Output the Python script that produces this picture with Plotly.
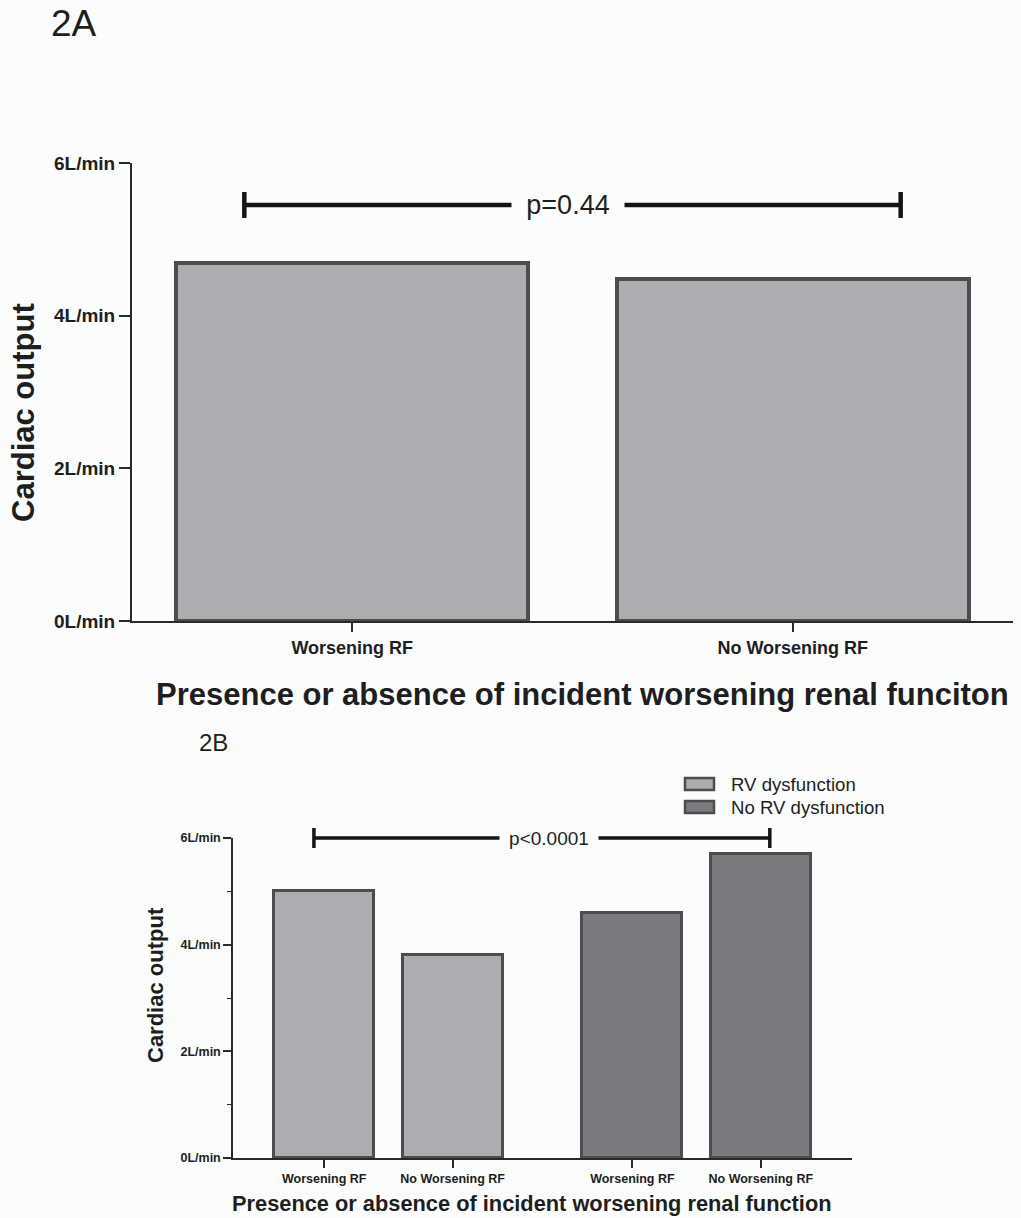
import plotly.graph_objects as go

# ---------------- data ----------------
# Panel 2A
a_categories = ["Worsening RF", "No Worsening RF"]
a_values = [4.69, 4.48]
a_pvalue = "p=0.44"

# Panel 2B
b_groups = ["RV dysfunction", "No RV dysfunction"]
b_categories = ["Worsening RF", "No Worsening RF"]
b_rv_values = [5.0, 3.8]
b_norv_values = [4.6, 5.7]
b_pvalue = "p<0.0001"

y_tickvals = [0, 2, 4, 6]
y_ticktext = ["0L/min", "2L/min", "4L/min", "6L/min"]

# ---------------- styling ----------------
W, H = 1021, 1218
BG = "#fbfcfc"
LIGHT = "#acadb1"
DARK = "#7a7b7f"
EDGE = "#4d4d4f"
AXC = "#2a2a2a"
TXT = "#1e1e1e"
FONT = "Liberation Sans, Arial, Helvetica, sans-serif"


def px(x):
    return x / W


def py(y):
    return 1 - y / H


# positions of bars in panel 2B (two groups separated by a gap)
GROUP_STEP = 2.4
b_positions = [[g * GROUP_STEP + i for i in range(len(b_categories))] for g in range(len(b_groups))]

fig = go.Figure()

# Panel 2A bars
fig.add_trace(go.Bar(
    x=list(range(len(a_categories))), y=a_values, width=0.80,
    marker=dict(color=LIGHT, line=dict(color=EDGE, width=4)),
    xaxis="x", yaxis="y", showlegend=False, hoverinfo="skip",
))

# Panel 2B bars
for g, (name, vals, col) in enumerate(zip(b_groups, [b_rv_values, b_norv_values], [LIGHT, DARK])):
    fig.add_trace(go.Bar(
        x=b_positions[g], y=vals, width=0.78, name=name,
        marker=dict(color=col, line=dict(color=EDGE, width=3)),
        xaxis="x2", yaxis="y2", showlegend=False, hoverinfo="skip",
    ))

common_axis = dict(showgrid=False, zeroline=False, showline=True, linecolor=AXC,
                   ticks="outside", tickcolor=AXC, fixedrange=True, automargin=False)

b_all_pos = b_positions[0] + b_positions[1]

fig.update_layout(
    width=W, height=H,
    margin=dict(l=0, r=0, t=0, b=0, pad=0, autoexpand=False),
    paper_bgcolor=BG, plot_bgcolor=BG,
    showlegend=False,
    font=dict(family=FONT, color=TXT),
    xaxis=dict(common_axis, domain=[px(132), px(1013)], range=[-0.5, 1.5],
               tickvals=list(range(len(a_categories))), ticktext=a_categories,
               linewidth=2, tickwidth=2, ticklen=9,
               tickfont=dict(size=18, weight="bold", family=FONT, color=TXT), anchor="y"),
    yaxis=dict(common_axis, domain=[py(621), py(163)], range=[0, 6],
               tickvals=y_tickvals, ticktext=y_ticktext,
               linewidth=2, tickwidth=2, ticklen=11,
               tickfont=dict(size=19, weight="bold", family=FONT, color=TXT), anchor="x"),
    xaxis2=dict(common_axis, domain=[px(233), px(852)], range=[-0.71, 4.11],
                tickvals=b_all_pos, ticktext=b_categories * 2,
                linewidth=1.5, tickwidth=1.5, ticklen=8,
                tickfont=dict(size=12.5, weight="bold", family=FONT, color=TXT), anchor="y2"),
    yaxis2=dict(common_axis, domain=[py(1158), py(838)], range=[0, 6],
                tickvals=y_tickvals, ticktext=y_ticktext,
                linewidth=1.5, tickwidth=1.5, ticklen=8,
                minor=dict(ticks="outside", dtick=1, tick0=0, ticklen=4, tickcolor=AXC, tickwidth=1.2),
                tickfont=dict(size=12.5, weight="bold", family=FONT, color=TXT), anchor="x2"),
    bargap=0,
)

shapes = []
annotations = []

# significance bracket 2A
a_y = 5.45
a_l, a_r = -0.245, 1.245
shapes.append(dict(type="line", xref="x", yref="y", x0=a_l, x1=a_r, y0=a_y, y1=a_y,
                   line=dict(color="#151515", width=4.5)))
for xx in (a_l, a_r):
    shapes.append(dict(type="line", xref="x", yref="y", x0=xx, x1=xx, y0=a_y - 0.17, y1=a_y + 0.17,
                       line=dict(color="#151515", width=4.5)))
annotations.append(dict(xref="x", yref="y", x=0.49, y=a_y, text=a_pvalue, showarrow=False,
                        font=dict(size=27, family=FONT, color=TXT), bgcolor=BG, width=110,
                        xanchor="center", yanchor="middle"))

# significance bracket 2B (drawn at the top edge of the panel; y in paper units to avoid clipping)
b_yp = py(838)
b_cap = 10 / H
b_l, b_r = -0.08, 3.47
shapes.append(dict(type="line", xref="x2", yref="paper", x0=b_l, x1=b_r, y0=b_yp, y1=b_yp,
                   line=dict(color="#151515", width=3.5)))
for xx in (b_l, b_r):
    shapes.append(dict(type="line", xref="x2", yref="paper", x0=xx, x1=xx, y0=b_yp - b_cap, y1=b_yp + b_cap,
                       line=dict(color="#151515", width=3.5)))
annotations.append(dict(xref="x2", yref="paper", x=1.75, y=b_yp, text=b_pvalue, showarrow=False,
                        font=dict(size=19, family=FONT, color=TXT), bgcolor=BG, width=96,
                        xanchor="center", yanchor="middle"))

# manual legend for 2B
for i, (name, col) in enumerate(zip(b_groups, [LIGHT, DARK])):
    yc = 784 + i * 23
    shapes.append(dict(type="rect", xref="paper", yref="paper",
                       x0=px(685), x1=px(714), y0=py(yc + 6), y1=py(yc - 6),
                       fillcolor=col, line=dict(color=EDGE, width=2.5)))
    annotations.append(dict(xref="paper", yref="paper", x=px(729), y=py(yc), text=name,
                            showarrow=False, xanchor="left", yanchor="middle",
                            font=dict(size=18.6, family=FONT, color=TXT)))

# panel labels and axis titles
annotations += [
    dict(xref="paper", yref="paper", x=px(74), y=py(24), text="2A", showarrow=False,
         xanchor="center", yanchor="middle", font=dict(size=37, family=FONT, color=TXT)),
    dict(xref="paper", yref="paper", x=px(213), y=py(742), text="2B", showarrow=False,
         xanchor="center", yanchor="middle", font=dict(size=24, family=FONT, color=TXT)),
    dict(xref="paper", yref="paper", x=px(24), y=py(413), text="Cardiac output", textangle=-90,
         showarrow=False, xanchor="center", yanchor="middle",
         font=dict(size=31, family=FONT, color=TXT, weight="bold")),
    dict(xref="paper", yref="paper", x=px(582), y=py(694),
         text="Presence or absence of incident worsening renal funciton", showarrow=False,
         xanchor="center", yanchor="middle", font=dict(size=31, family=FONT, color=TXT, weight="bold")),
    dict(xref="paper", yref="paper", x=px(155), y=py(985), text="Cardiac output", textangle=-90,
         showarrow=False, xanchor="center", yanchor="middle",
         font=dict(size=22, family=FONT, color=TXT, weight="bold")),
    dict(xref="paper", yref="paper", x=px(532), y=py(1203),
         text="Presence or absence of incident worsening renal function", showarrow=False,
         xanchor="center", yanchor="middle", font=dict(size=21.8, family=FONT, color=TXT, weight="bold")),
]

fig.update_layout(shapes=shapes, annotations=annotations)

fig.write_html("out.html", config={"displayModeBar": False},
               post_script="document.body.style.margin='0';document.body.style.overflow='hidden';")
